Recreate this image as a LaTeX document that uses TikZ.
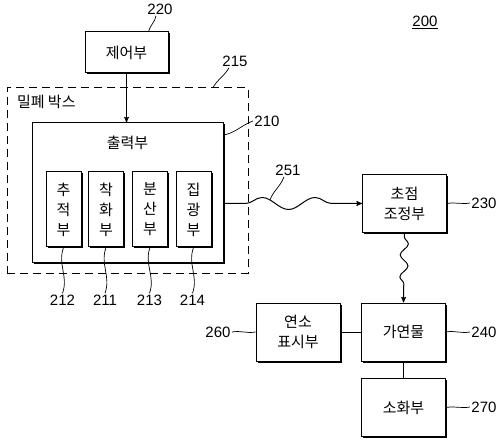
\documentclass[tikz,border=0pt]{standalone}
\usepackage{fontspec}
\setmainfont{Liberation Sans}
\newfontfamily\kr{Noto Sans CJK KR}
\usetikzlibrary{arrows,shadows,decorations.pathmorphing}

\begin{document}
\begin{tikzpicture}
[x=1pt,y=1pt,>=stealth',line width=1pt,
font=\fontsize{15}{20}\selectfont,
block/.style={draw,fill=white,align=center,inner sep=0pt,
	font=\kr\fontsize{15}{20}\selectfont,
	drop shadow={shadow xshift=1.5pt,shadow yshift=-1.5pt,opacity=1,fill=black}},
part/.style={block,minimum width=35pt,minimum height=75pt},
unit/.style={block,minimum width=84pt,minimum height=58pt},
tag/.style={inner sep=1pt},
lead/.style={-,line width=0.7pt}]
\useasboundingbox (0,0) rectangle (498,445);
\node[tag] (n200) at (425,423) {\underline{200}};
% control and sealed box
\node[block,minimum width=83pt,minimum height=41pt] (ctrl) at (126.5,392.5) {제어부};
\node[tag] (n220) at (160,436) {220};
\node[draw,dash pattern=on 8pt off 5pt,minimum width=241pt,minimum height=185pt] (seal) at (127.5,264.5) {};
\node[anchor=north west,inner sep=0pt,font=\kr\fontsize{15}{20}\selectfont] (sealtxt) at ([shift={(10pt,-7pt)}]seal.north west) {밀폐 박스};
\node[tag] (n215) at (235,384) {215};
\node[block,minimum width=191pt,minimum height=140pt] (out) at (127.5,252) {};
\node[font=\kr\fontsize{15}{20}\selectfont] (outtxt) at (127.5,302) {출력부};
\node[tag] (n210) at (267,324) {210};
% parts of the output unit
\node[part] (trk) at (63.5,235.5) {추\\적\\부};
\node[part] (ign) at (106,235.5) {착\\화\\부};
\node[part] (dsp) at (150,235.5) {분\\산\\부};
\node[part] (cnd) at (193.5,235.5) {집\\광\\부};
\node[tag] (n212) at (62.5,145) {212};
\node[tag] (n211) at (105,145) {211};
\node[tag] (n213) at (149.5,145) {213};
\node[tag] (n214) at (192.5,145) {214};
% right hand side
\node[unit] (fc) at (404.5,241.5) {초점\\조정부};
\node[tag] (n230) at (484,242) {230};
\node[tag] (n251) at (288,275) {251};
\node[unit] (fuel) at (403.5,113) {가연물};
\node[tag] (n240) at (484,113) {240};
\node[unit] (disp) at (298,113) {연소\\표시부};
\node[tag] (n260) at (218,113) {260};
\node[unit] (ext) at (403.5,37.5) {소화부};
\node[tag] (n270) at (484,38) {270};
\coordinate (w251) at (270,245);

\draw[->] (ctrl.south) -- (ctrl.south |- out.north);
\draw[->,decorate,decoration={snake,amplitude=6pt,segment length=53pt,pre length=22pt,post length=11pt}]
	(out.east |- fc.west) -- (fc.west);
\draw[->,decorate,decoration={snake,amplitude=4pt,segment length=22pt,pre length=4pt,post length=12pt}]
	(fc.south) -- (fuel.north);
\draw (disp) -- (fuel);
\draw (fuel) -- (ext);
% leaders
\draw[lead] ([xshift=22pt]ctrl.north) to[out=75,in=-100] ([xshift=-4pt]n220.south);
\draw[lead] ([xshift=85.5pt]seal.north) to[out=60,in=-120] ([xshift=-6pt]n215.south);
\draw[lead] ([yshift=58pt]out.east) to[out=10,in=200] (n210.west);
\draw[lead] (w251) to[out=70,in=-110] ([xshift=-4pt]n251.south);
\draw[lead] (trk.south) to[out=-110,in=70] (n212.north);
\draw[lead] (ign.south) to[out=-110,in=70] (n211.north);
\draw[lead] (dsp.south) to[out=-110,in=70] (n213.north);
\draw[lead] (cnd.south) to[out=-110,in=70] (n214.north);
\draw[lead] (fc.east) to[out=10,in=190] (n230.west);
\draw[lead] (fuel.east) to[out=10,in=190] (n240.west);
\draw[lead] (n260.east) to[out=10,in=190] (disp.west);
\draw[lead] (ext.east) to[out=10,in=190] (n270.west);
\end{tikzpicture}
\end{document}
